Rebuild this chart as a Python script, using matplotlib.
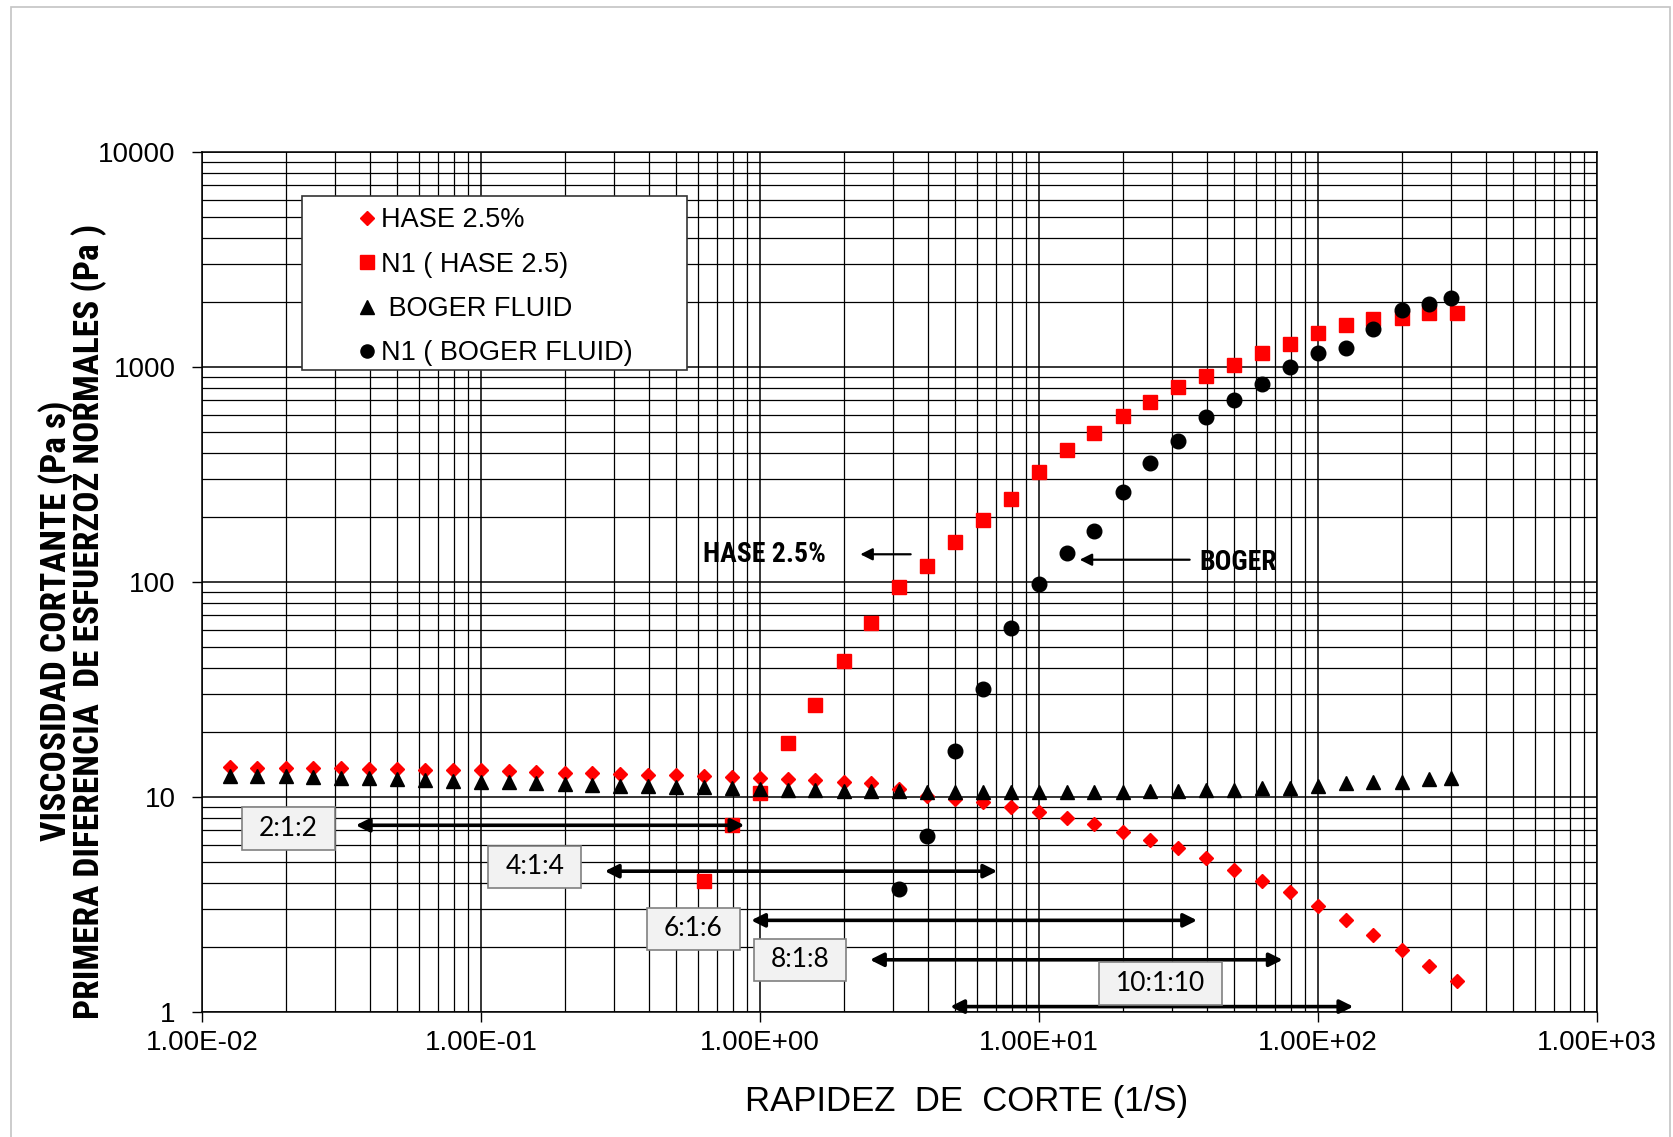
import matplotlib
matplotlib.use("Agg")
import matplotlib.pyplot as plt
from matplotlib import font_manager
from matplotlib.patches import Rectangle
from matplotlib.path import Path
from matplotlib.ticker import LogLocator, NullFormatter, FuncFormatter, FixedLocator

# shear rates (1/s)
rate = [0.0126, 0.0158, 0.02, 0.0251, 0.0316, 0.0398, 0.0501, 0.0631, 0.0794, 0.1,
        0.126, 0.158, 0.2, 0.251, 0.316, 0.398, 0.501, 0.631, 0.794, 1.0,
        1.26, 1.58, 2.0, 2.51, 3.16, 3.98, 5.01, 6.31, 7.94, 10.0,
        12.6, 15.8, 20.0, 25.1, 31.6, 39.8, 50.1, 63.1, 79.4, 100.0,
        126.0, 158.0, 200.0, 251.0, 316.0]

hase_visc = [13.8, 13.7, 13.7, 13.6, 13.6, 13.5, 13.5, 13.4, 13.4, 13.3,
             13.2, 13.1, 13.0, 12.9, 12.8, 12.7, 12.6, 12.5, 12.4, 12.2,
             12.1, 12.0, 11.8, 11.6, 10.9, 10.1, 9.8, 9.5, 9.0, 8.5,
             8.0, 7.5, 6.9, 6.3, 5.8, 5.2, 4.6, 4.09, 3.61, 3.10,
             2.69, 2.29, 1.95, 1.64, 1.40]

hase_n1_rate = [0.631, 0.794, 1.0, 1.26, 1.58, 2.0, 2.51, 3.16, 3.98, 5.01,
                6.31, 7.94, 10.0, 12.6, 15.8, 20.0, 25.1, 31.6, 39.8, 50.1,
                63.1, 79.4, 100.0, 126.0, 158.0, 200.0, 251.0, 316.0]
hase_n1 = [4.08, 7.4, 10.4, 17.8, 26.9, 43.0, 64.8, 94.4, 118.7, 153.0,
           194.0, 244.0, 324.0, 412.0, 495.0, 594.0, 690.0, 809.0, 907.0, 1017.0,
           1156.0, 1285.0, 1432.0, 1561.0, 1664.0, 1683.0, 1775.0, 1775.0]

boger_rate = [0.0126, 0.0158, 0.02, 0.0251, 0.0316, 0.0398, 0.0501, 0.0631, 0.0794, 0.1,
              0.126, 0.158, 0.2, 0.251, 0.316, 0.398, 0.501, 0.631, 0.794, 1.0,
              1.26, 1.58, 2.0, 2.51, 3.16, 3.98, 5.01, 6.31, 7.94, 10.0,
              12.6, 15.8, 20.0, 25.1, 31.6, 39.8, 50.1, 63.1, 79.4, 100.0,
              126.0, 158.0, 200.0, 251.0, 299.0]
boger_visc = [12.5, 12.5, 12.5, 12.4, 12.3, 12.2, 12.1, 12.0, 11.9, 11.8,
              11.7, 11.6, 11.5, 11.4, 11.3, 11.2, 11.1, 11.1, 11.0, 10.9,
              10.8, 10.8, 10.7, 10.7, 10.7, 10.6, 10.6, 10.6, 10.6, 10.6,
              10.6, 10.6, 10.6, 10.7, 10.7, 10.8, 10.8, 10.96, 11.07, 11.3,
              11.6, 11.7, 11.8, 12.15, 12.25]

boger_n1_rate = [3.16, 3.98, 5.01, 6.31, 7.94, 10.0, 12.6, 15.8, 20.0, 25.1,
                 31.6, 39.8, 50.1, 63.1, 79.4, 100.0, 126.0, 158.0, 200.0, 251.0, 299.0]
boger_n1 = [3.72, 6.59, 16.3, 31.9, 61.2, 97.7, 136.0, 173.0, 261.0, 356.0,
            452.0, 588.0, 706.0, 838.0, 995.0, 1156.0, 1222.0, 1510.0, 1833.0, 1972.0, 2103.0]

# geometry ratios and the shear-rate range each one covers
ratio_labels = ["2:1:2", "4:1:4", "6:1:6", "8:1:8", "10:1:10"]
ratio_start = [0.0356, 0.278, 0.93, 2.48, 4.81]
ratio_end = [0.88, 7.09, 36.9, 74.8, 134.0]

names = {f.name for f in font_manager.fontManager.ttflist}
narrow = "Liberation Sans"
for cand in ("Liberation Sans Narrow", "Arial Narrow", "Roboto Condensed"):
    if cand in names:
        narrow = cand
        break
box_font = "Lato" if "Lato" in names else "DejaVu Sans"

plt.rcParams["font.family"] = ["Liberation Sans", "DejaVu Sans"]

fig = plt.figure(figsize=(16.73, 11.37), dpi=100)
fig.patches.append(Rectangle((11 / 1673, -0.01), 1659 / 1673, 1.0038, transform=fig.transFigure,
                             fill=False, edgecolor="#c4c4c4", lw=1.2))
ax = fig.add_axes([0.1207, 0.1099, 0.8338, 0.7564])

ax.set_xscale("log")
ax.set_yscale("log")
ax.set_xlim(0.01, 1000)
ax.set_ylim(1, 10000)

ax.xaxis.set_major_locator(FixedLocator([0.01, 0.1, 1, 10, 100, 1000]))
ax.xaxis.set_major_formatter(FuncFormatter(lambda v, _: f"{v:.2E}"))
ax.yaxis.set_major_locator(FixedLocator([1, 10, 100, 1000, 10000]))
ax.yaxis.set_major_formatter(FuncFormatter(lambda v, _: f"{v:.0f}"))
for axis in (ax.xaxis, ax.yaxis):
    axis.set_minor_locator(LogLocator(base=10, subs=range(2, 10), numticks=20))
    axis.set_minor_formatter(NullFormatter())

ax.tick_params(which="major", direction="out", length=7, width=1, labelsize=20, colors="black")
ax.tick_params(axis="x", which="major", pad=6)
ax.tick_params(axis="y", which="major", pad=12)
ax.tick_params(which="minor", length=0)
ax.grid(True, which="major", color="black", lw=1.1)
ax.grid(True, which="minor", color="black", lw=0.9)
ax.set_axisbelow(True)
for sp in ax.spines.values():
    sp.set_color("black")
    sp.set_linewidth(1.1)

h1, = ax.plot(rate, hase_visc, ls="none", marker="D", ms=7.5, color="#ff0000", mec="#ff0000", zorder=3)
h2, = ax.plot(hase_n1_rate, hase_n1, ls="none", marker="s", ms=10.5, color="#ff0000", mec="#ff0000", zorder=3)
h3, = ax.plot(boger_rate, boger_visc, ls="none", marker="^", ms=10.5, color="black", zorder=3)
h4, = ax.plot(boger_n1_rate, boger_n1, ls="none", marker="o", ms=10.5, color="black", zorder=3)

# legend: white framed box, frameless legend on top of it
ax.add_patch(Rectangle((0.0717, 0.7465), 0.276, 0.2023, transform=ax.transAxes,
                       facecolor="white", edgecolor="#333333", lw=1.2, zorder=4))
leg = ax.legend([h1, h2, h3, h4],
                ["HASE 2.5%", "N1 ( HASE 2.5)", " BOGER FLUID", "N1 ( BOGER FLUID)"],
                loc="upper left", bbox_to_anchor=(0.1104, 0.9358), borderaxespad=0, borderpad=0,
                frameon=False, fontsize=19.5, handlelength=0.8, handletextpad=0.12,
                labelspacing=0.68, markerscale=0.9)
leg.set_zorder(5)

# curve annotations
bold_txt = dict(family=[narrow, "DejaVu Sans"], fontweight="bold", fontsize=20, color="black")
ax.text(0.627, 135, "HASE 2.5%", ha="left", va="center", **bold_txt)
ax.annotate("", xy=(2.29, 134.6), xytext=(3.47, 134.6),
            arrowprops=dict(arrowstyle="-|>", color="black", lw=1.6, mutation_scale=18,
                            shrinkA=0, shrinkB=0))
ax.text(37.5, 123, "BOGER", ha="left", va="center", **bold_txt)
ax.annotate("", xy=(14.0, 127), xytext=(34.7, 127),
            arrowprops=dict(arrowstyle="-|>", color="black", lw=1.6, mutation_scale=18,
                            shrinkA=0, shrinkB=0))


def wide_box(x0, y0, width, height, mutation_size):
    padx, pady = 0.64 * mutation_size, 0.33 * mutation_size
    return Path([(x0 - padx, y0 - pady), (x0 + width + padx, y0 - pady),
                 (x0 + width + padx, y0 + height + pady), (x0 - padx, y0 + height + pady),
                 (x0 - padx, y0 - pady)], closed=True)


# ratio ranges: double arrows with labelled boxes
arrow_y = [7.39, 4.52, 2.67, 1.75, 1.06]
box_xy = [(0.0204, 7.14), (0.156, 4.73), (0.578, 2.44), (1.39, 1.75), (27.3, 1.36)]
for lab, x0, x1, yy, (bx, by) in zip(ratio_labels, ratio_start, ratio_end, arrow_y, box_xy):
    ax.annotate("", xy=(x1, yy), xytext=(x0, yy),
                arrowprops=dict(arrowstyle="<|-|>", color="black", lw=2.6, mutation_scale=20,
                                shrinkA=0, shrinkB=0), zorder=6)
    ax.text(bx, by, lab, ha="center", va="center", fontsize=19, family=[box_font, "DejaVu Sans"],
            color="black", zorder=7,
            bbox=dict(boxstyle=wide_box, facecolor="#f2f2f2", edgecolor="#808080", lw=1.2))

lab_font = dict(family=[narrow, "DejaVu Sans"], fontweight="bold", fontsize=25.5, color="black")
fig.text(0.0335, 0.4538, "VISCOSIDAD CORTANTE (Pa s)", rotation=90, ha="center", va="center", **lab_font)
fig.text(0.0530, 0.4538, "PRIMERA DIFERENCIA  DE ESFUERZOZ NORMALES (Pa )", rotation=90,
         ha="center", va="center", **lab_font)
fig.text(0.578, 0.0308, "RAPIDEZ  DE  CORTE (1/S)", ha="center", va="center", fontsize=25, color="black")

fig.savefig("out.png", dpi=100, facecolor="white")
